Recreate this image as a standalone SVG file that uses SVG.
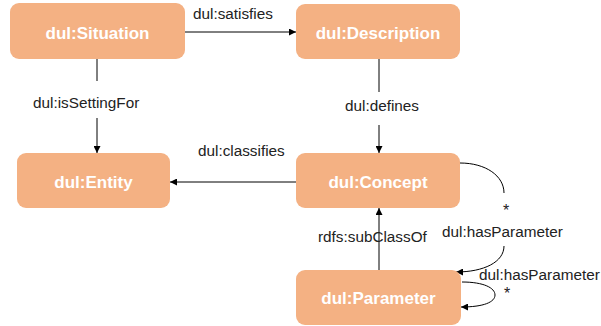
<svg xmlns="http://www.w3.org/2000/svg" width="601" height="326" viewBox="0 0 601 326">
  <style>
    .node rect { fill: #F4B183; }
    .node text { font-family: "Liberation Sans", Arial, sans-serif; font-weight: bold; font-size: 17px; fill: #ffffff; text-anchor: middle; }
    .edge { stroke: #000000; stroke-width: 1; fill: none; }
    .lbl { font-family: "Liberation Sans", Arial, sans-serif; font-size: 15.3px; fill: #222222; }
    .star { font-family: "Liberation Sans", Arial, sans-serif; font-size: 16px; fill: #222222; text-anchor: middle; }
  </style>
  <defs>
    <marker id="arrow" viewBox="0 0 8 8" refX="8" refY="4" markerWidth="7" markerHeight="7" markerUnits="userSpaceOnUse" orient="auto">
      <path d="M0,0 L8,4 L0,8 z" fill="#000000"/>
    </marker>
  </defs>
  <rect width="601" height="326" fill="#ffffff"/>

  <g id="connectors">
    <!-- satisfies -->
    <line class="edge" x1="185" y1="32" x2="296" y2="32" marker-end="url(#arrow)"/>
    <text class="lbl" x="193" y="19">dul:satisfies</text>
    <!-- isSettingFor -->
    <line class="edge" x1="97" y1="59" x2="97" y2="81"/>
    <line class="edge" x1="97" y1="118" x2="97" y2="153" marker-end="url(#arrow)"/>
    <text class="lbl" x="33" y="108">dul:isSettingFor</text>
    <!-- defines -->
    <line class="edge" x1="379" y1="59" x2="379" y2="92"/>
    <line class="edge" x1="379" y1="125" x2="379" y2="153" marker-end="url(#arrow)"/>
    <text class="lbl" x="345" y="111">dul:defines</text>
    <!-- classifies -->
    <line class="edge" x1="296" y1="182" x2="170" y2="182" marker-end="url(#arrow)"/>
    <text class="lbl" x="198" y="156">dul:classifies</text>
    <!-- subClassOf -->
    <line class="edge" x1="379" y1="270" x2="379" y2="208" marker-end="url(#arrow)"/>
    <text class="lbl" x="318" y="242">rdfs:subClassOf</text>
    <!-- hasParameter: Concept to Parameter -->
    <path class="edge" d="M460,163 C486,163 504,176 504,193"/>
    <path class="edge" d="M504,246 C504,262 484,272 456,272" marker-end="url(#arrow)"/>
    <text class="star" x="506" y="216">*</text>
    <text class="lbl" x="442" y="237">dul:hasParameter</text>
    <!-- hasParameter: Parameter self loop -->
    <path class="edge" d="M462,282 C484,282 495,288 495,295 C495,302 484,307 461,307" marker-end="url(#arrow)"/>
    <text class="lbl" x="479" y="280">dul:hasParameter</text>
    <text class="star" x="507" y="299">*</text>
  </g>

  <g id="situation" class="node">
    <rect x="10" y="3" width="175" height="56" rx="9"/>
    <text x="97.5" y="39">dul:Situation</text>
  </g>
  <g id="description" class="node">
    <rect x="296" y="4" width="164" height="55" rx="9"/>
    <text x="378" y="39">dul:Description</text>
  </g>
  <g id="entity" class="node">
    <rect x="17" y="153" width="153" height="55" rx="9"/>
    <text x="93.5" y="188">dul:Entity</text>
  </g>
  <g id="concept" class="node">
    <rect x="296" y="153" width="164" height="55" rx="9"/>
    <text x="378" y="188">dul:Concept</text>
  </g>
  <g id="parameter" class="node">
    <rect x="296" y="270" width="165" height="55" rx="9"/>
    <text x="378.5" y="304">dul:Parameter</text>
  </g>
</svg>
